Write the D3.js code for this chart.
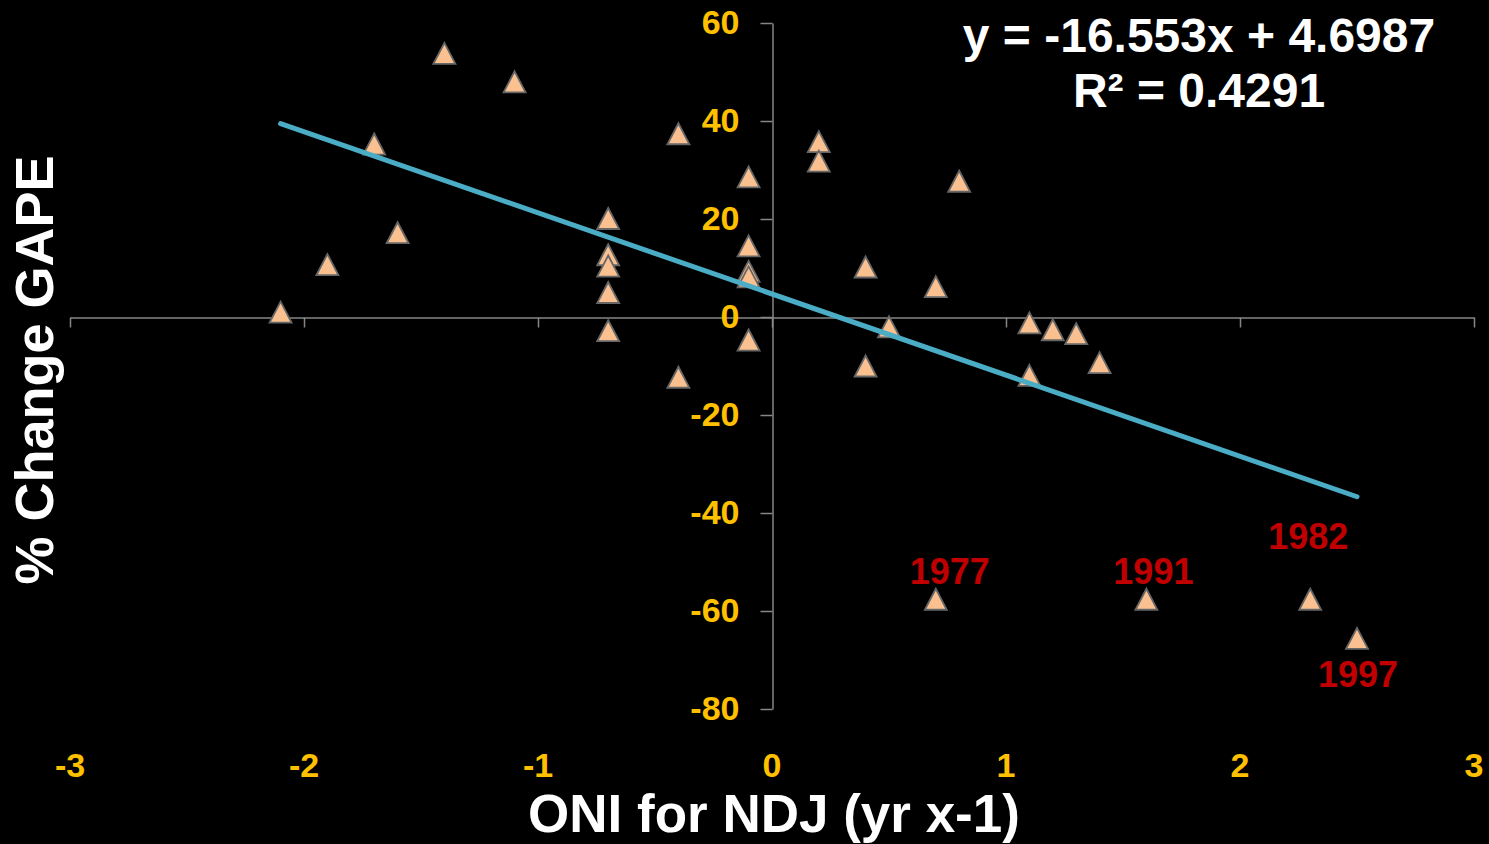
<!DOCTYPE html>
<html>
<head>
<meta charset="utf-8">
<script src="https://cdn.jsdelivr.net/npm/d3@7"></script>
<style>
  html, body { margin: 0; padding: 0; background: #000; }
  svg { display: block; }
  text { font-family: "Liberation Sans", Arial, sans-serif; font-weight: bold; }
</style>
</head>
<body>
<svg id="chart" width="1489" height="844"></svg>
<script>
// ONI (Nov-Dec-Jan of previous year) vs. % change in GAPE
const oni = [
  -2.1, -1.9, -1.7, -1.6, -1.4, -1.1,
  -0.7, -0.7, -0.7, -0.7, -0.7,
  -0.4, -0.4,
  -0.1, -0.1, -0.1, -0.1, -0.1,
  0.2, 0.2,
  0.4, 0.4,
  0.5,
  0.7, 0.7,
  0.8,
  1.1, 1.1,
  1.2, 1.3, 1.4,
  1.6, 2.3, 2.5
];
const gapeChange = [
  1.0, 10.7, 35.3, 17.2, 53.8, 48.0,
  20.1, 12.7, 10.4, 5.0, -2.8,
  37.4, -12.3,
  28.6, 14.5, 9.3, 8.2, -4.7,
  35.8, 31.8,
  10.2, -10.0,
  -2.0,
  6.2, -57.6,
  27.7,
  -1.2, -11.9,
  -2.6, -3.4, -9.3,
  -57.6, -57.6, -65.6
];

// Highlighted El Niño years
const yearLabels = ["1977", "1991", "1982", "1997"];
const yearOni    = [0.7, 1.6, 2.3, 2.5];
const yearGape   = [-57.6, -57.6, -57.6, -65.6];
const yearDx     = [14, 7, -2, 1];
const yearDy     = [-15, -15, -50, 49];

// Linear trendline
const slope = -16.553;
const intercept = 4.6987;
const equationLines = ["y = -16.553x + 4.6987", "R\u00B2 = 0.4291"];

const xTicks = [-3, -2, -1, 0, 1, 2, 3];
const yTicks = [-80, -60, -40, -20, 0, 20, 40, 60];

const svg = d3.select("#chart");

const x = d3.scaleLinear().domain([-3, 3]).range([70, 1474]);
const y = d3.scaleLinear().domain([-80, 60]).range([709, 23]);

const axisColor = "#868686";
const tickColor = "#FFC000";

// Horizontal axis through y = 0
const gx = svg.append("g")
  .attr("transform", `translate(0,${y(0) + 0.5})`)
  .call(d3.axisBottom(x).tickValues(xTicks).tickSize(10).tickSizeOuter(0).tickFormat(""));
gx.select(".domain").attr("stroke", axisColor).attr("stroke-width", 1.5);
gx.selectAll(".tick line").attr("stroke", axisColor).attr("stroke-width", 1.5);

// Vertical axis through x = 0
const gy = svg.append("g")
  .attr("transform", `translate(${x(0) + 0.5},0)`)
  .call(d3.axisLeft(y).tickValues(yTicks).tickSize(12).tickSizeOuter(0).tickPadding(21)
    .tickFormat(d => String(d)));
gy.select(".domain").attr("stroke", axisColor).attr("stroke-width", 1.5);
gy.selectAll(".tick line").attr("stroke", axisColor).attr("stroke-width", 1.5);
gy.selectAll(".tick text")
  .attr("fill", tickColor)
  .attr("font-size", 34)
  .attr("font-family", "'Liberation Sans', Arial, sans-serif")
  .attr("font-weight", "bold");

// X tick labels along the bottom of the plot
svg.append("g")
  .selectAll("text")
  .data(xTicks)
  .join("text")
  .attr("x", d => x(d))
  .attr("y", 777)
  .attr("text-anchor", "middle")
  .attr("fill", tickColor)
  .attr("font-size", 34)
  .text(d => String(d));

// Triangle markers (bbox centred on the data point)
const tri = "M0,-10.5L11,10.5L-11,10.5Z";
svg.append("g")
  .selectAll("path")
  .data(oni.map((v, i) => [v, gapeChange[i]]))
  .join("path")
  .attr("d", tri)
  .attr("transform", d => `translate(${x(d[0])},${y(d[1])})`)
  .attr("fill", "#FAC090")
  .attr("stroke", "#666666")
  .attr("stroke-width", 1.8)
  .attr("stroke-linejoin", "miter");

// Trendline over the data's x extent
const [xMin, xMax] = d3.extent(oni);
svg.append("line")
  .attr("x1", x(xMin)).attr("y1", y(slope * xMin + intercept))
  .attr("x2", x(xMax)).attr("y2", y(slope * xMax + intercept))
  .attr("stroke", "#4BACC6")
  .attr("stroke-width", 5)
  .attr("stroke-linecap", "round");

// Year labels
svg.append("g")
  .selectAll("text")
  .data(yearLabels)
  .join("text")
  .attr("x", (d, i) => x(yearOni[i]) + yearDx[i])
  .attr("y", (d, i) => y(yearGape[i]) + yearDy[i])
  .attr("text-anchor", "middle")
  .attr("fill", "#C00000")
  .attr("font-size", 36)
  .text(d => d);

// Regression equation
svg.append("g")
  .selectAll("text")
  .data(equationLines)
  .join("text")
  .attr("x", 1199)
  .attr("y", (d, i) => 52 + i * 55)
  .attr("text-anchor", "middle")
  .attr("fill", "#FFFFFF")
  .attr("font-size", 48)
  .text(d => d);

// Axis titles
svg.append("text")
  .attr("x", 774)
  .attr("y", 832)
  .attr("text-anchor", "middle")
  .attr("fill", "#FFFFFF")
  .attr("font-size", 53)
  .text("ONI for NDJ (yr x-1)");

svg.append("text")
  .attr("transform", "translate(53,370) rotate(-90)")
  .attr("text-anchor", "middle")
  .attr("fill", "#FFFFFF")
  .attr("font-size", 54)
  .text("% Change GAPE");
</script>
</body>
</html>
